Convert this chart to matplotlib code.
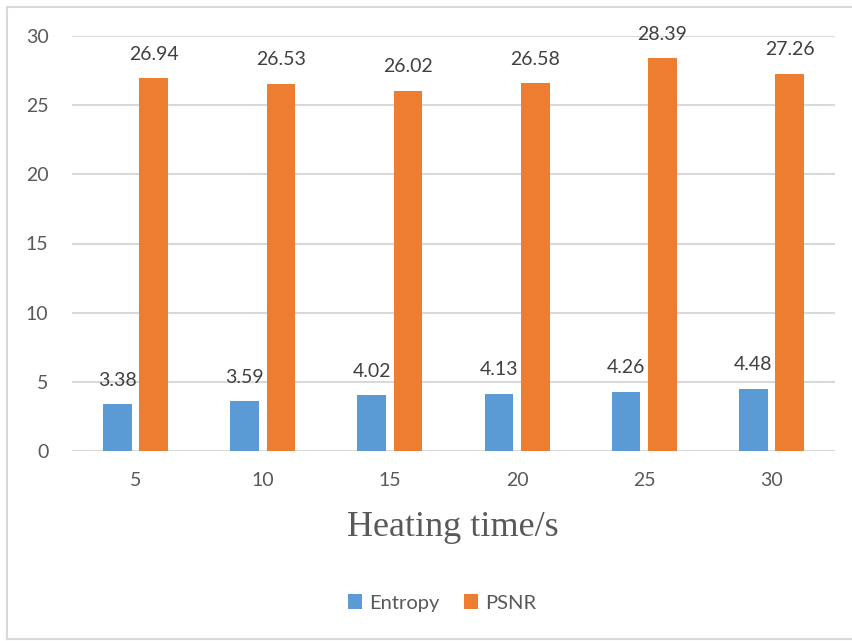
import numpy as np
import matplotlib.pyplot as plt
from matplotlib.lines import Line2D

# datos del grafico
categories = ['5', '10', '15', '20', '25', '30']
entropy = [3.38, 3.59, 4.02, 4.13, 4.26, 4.48]
psnr = [26.94, 26.53, 26.02, 26.58, 28.39, 27.26]

W, H = 853, 641
fig = plt.figure(figsize=(W / 100, H / 100), dpi=100)
plt.rcParams['font.family'] = ['Lato', 'DejaVu Sans']

# marco exterior (izquierda, arriba, abajo)
for xs, ys in [([7.5, 7.5], [7, 639]), ([7.5, 853], [7, 7]), ([7.5, 853], [639, 639])]:
    fig.add_artist(Line2D([x / W for x in xs], [1 - y / H for y in ys],
                          color='#d9d9d9', lw=1.5))

ax = fig.add_axes([72 / W, 1 - 451 / H, (835 - 72) / W, (451 - 36) / H])
x = np.arange(len(categories))
bw = 0.225
off = 0.143
b1 = ax.bar(x - off, entropy, bw, color='#5B9BD5', label='Entropy', zorder=3)
b2 = ax.bar(x + off, psnr, bw, color='#ED7D31', label='PSNR', zorder=3)

for bars in (b1, b2):
    for r in bars:
        v = r.get_height()
        ax.text(r.get_x() + r.get_width() / 2, v + 1.75, f'{v:.2f}',
                ha='center', va='center', fontsize=14, color='#404040', zorder=4)

ax.set_xlim(-0.5, len(categories) - 0.5)
ax.set_ylim(0, 30)
ax.set_yticks(range(0, 31, 5))
ax.set_xticks(x)
ax.set_xticklabels(categories)
ax.yaxis.grid(True, color='#d9d9d9', lw=1.5, zorder=0)
for s in ax.spines.values():
    s.set_visible(False)
ax.tick_params(length=0, labelsize=14, labelcolor='#595959')
ax.tick_params(axis='y', pad=17)
ax.tick_params(axis='x', pad=15)

fig.text(453 / W, 1 - 527 / H, 'Heating time/s', ha='center', va='center',
         fontsize=26, family='Liberation Serif', color='#595959')

fig.legend(handles=[b1, b2], loc='center', bbox_to_anchor=(442 / W, 1 - 603 / H),
           ncol=2, frameon=False, fontsize=14.5, labelcolor='#595959',
           handlelength=0.7, handleheight=0.7, handletextpad=0.35, columnspacing=1.2)

fig.savefig('out.png', dpi=100)
